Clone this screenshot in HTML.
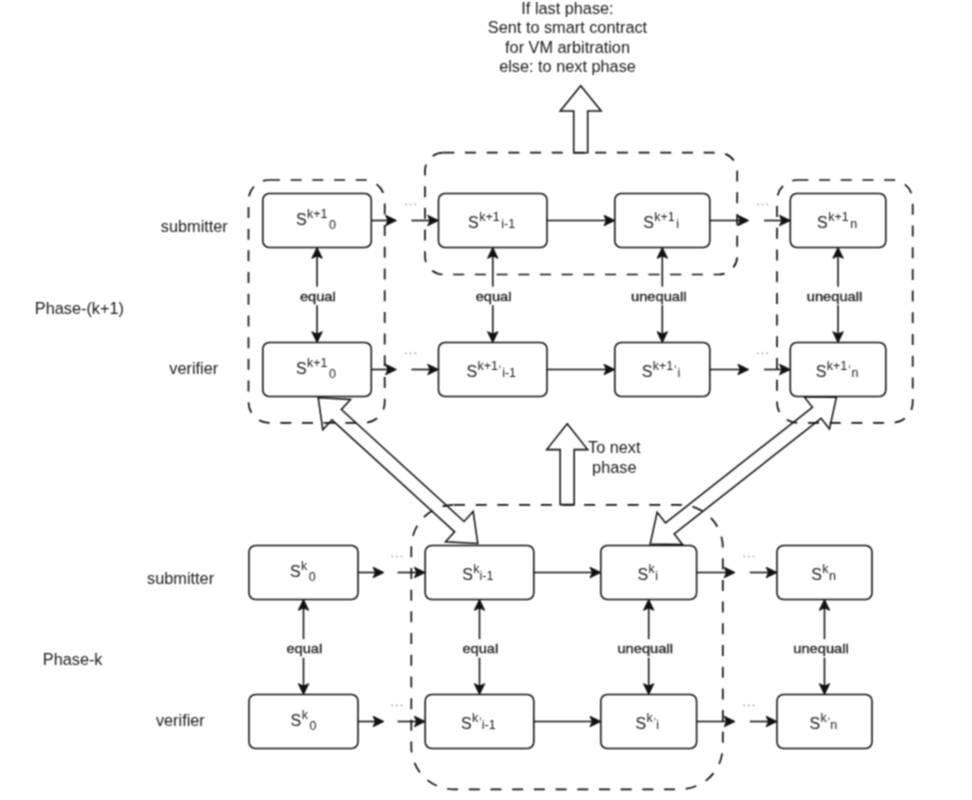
<!DOCTYPE html>
<html><head><meta charset="utf-8"><style>
html,body{margin:0;padding:0;background:#fff;width:972px;height:800px;overflow:hidden}
svg{display:block;font-family:"Liberation Sans",sans-serif}
</style></head><body>
<svg width="972" height="800" viewBox="0 0 972 800">
<defs><filter id="bl" color-interpolation-filters="sRGB" filterUnits="userSpaceOnUse" x="0" y="0" width="972" height="800"><feConvolveMatrix order="3" kernelMatrix="1 2 1 2 4 2 1 2 1" divisor="16" edgeMode="duplicate"/></filter></defs>
<rect width="972" height="800" fill="#fff"/>
<g filter="url(#bl)">
<rect width="972" height="800" fill="#fff"/>
<polygon points="318.20,397.80 322.84,429.80 331.94,419.83 454.62,531.81 445.52,541.78 477.80,543.50 473.16,511.50 464.06,521.47 341.38,409.49 350.48,399.52" fill="#fff" stroke="#111111" stroke-width="1.55" stroke-linejoin="miter"/>
<polygon points="836.40,397.30 804.08,396.66 812.43,407.27 665.51,522.93 657.16,512.33 650.20,543.90 682.52,544.54 674.17,533.93 821.09,418.27 829.44,428.87" fill="#fff" stroke="#111111" stroke-width="1.55" stroke-linejoin="miter"/>
<polygon points="573.70,152.70 573.70,111.00 560.20,111.00 580.70,85.80 601.20,111.00 587.70,111.00 587.70,152.70" fill="#fff" stroke="#111111" stroke-width="1.55" stroke-linejoin="miter"/>
<polygon points="560.20,504.60 560.20,449.60 546.70,449.60 567.20,423.80 587.70,449.60 574.20,449.60 574.20,504.60" fill="#fff" stroke="#111111" stroke-width="1.55" stroke-linejoin="miter"/>
<path d="M268.93,180.00 L364.27,180.00 A20.43,20.43 0 0 1 384.70,200.43 L384.70,402.37 A20.43,20.43 0 0 1 364.27,422.80 L268.93,422.80 A20.43,20.43 0 0 1 248.50,402.37 L248.50,200.43 A20.43,20.43 0 0 1 268.93,180.00 Z" fill="none" stroke="#111111" stroke-width="1.7" stroke-dasharray="11 10.7"/>
<path d="M443.27,152.70 L718.93,152.70 A18.27,18.27 0 0 1 737.20,170.97 L737.20,256.23 A18.27,18.27 0 0 1 718.93,274.50 L443.27,274.50 A18.27,18.27 0 0 1 425.00,256.23 L425.00,170.97 A18.27,18.27 0 0 1 443.27,152.70 Z" fill="none" stroke="#111111" stroke-width="1.7" stroke-dasharray="11 10.7"/>
<path d="M797.36,180.00 L892.35,180.00 A20.35,20.35 0 0 1 912.70,200.35 L912.70,402.44 A20.35,20.35 0 0 1 892.35,422.80 L797.36,422.80 A20.35,20.35 0 0 1 777.00,402.44 L777.00,200.35 A20.35,20.35 0 0 1 797.36,180.00 Z" fill="none" stroke="#111111" stroke-width="1.7" stroke-dasharray="11 10.7"/>
<path d="M453.98,504.80 L680.12,504.80 A42.67,42.67 0 0 1 722.80,547.48 L722.80,746.62 A42.67,42.67 0 0 1 680.12,789.30 L453.98,789.30 A42.67,42.67 0 0 1 411.30,746.62 L411.30,547.48 A42.67,42.67 0 0 1 453.98,504.80 Z" fill="none" stroke="#111111" stroke-width="1.7" stroke-dasharray="11 10.7"/>
<line x1="371.3" y1="220.5" x2="390.4" y2="220.5" stroke="#111111" stroke-width="1.55"/>
<polygon points="396.40,220.50 385.60,225.70 388.00,220.50 385.60,215.30" fill="#111111" stroke="#111111" stroke-width="1" stroke-linejoin="miter"/>
<line x1="411.4" y1="220.5" x2="432.5" y2="220.5" stroke="#111111" stroke-width="1.55"/>
<polygon points="438.50,220.50 427.70,225.70 430.10,220.50 427.70,215.30" fill="#111111" stroke="#111111" stroke-width="1" stroke-linejoin="miter"/>
<line x1="547" y1="220.5" x2="608.8" y2="220.5" stroke="#111111" stroke-width="1.55"/>
<polygon points="614.80,220.50 604.00,225.70 606.40,220.50 604.00,215.30" fill="#111111" stroke="#111111" stroke-width="1" stroke-linejoin="miter"/>
<line x1="709.8" y1="220.5" x2="742.7" y2="220.5" stroke="#111111" stroke-width="1.55"/>
<polygon points="748.70,220.50 737.90,225.70 740.30,220.50 737.90,215.30" fill="#111111" stroke="#111111" stroke-width="1" stroke-linejoin="miter"/>
<line x1="764" y1="220.5" x2="784.3" y2="220.5" stroke="#111111" stroke-width="1.55"/>
<polygon points="790.30,220.50 779.50,225.70 781.90,220.50 779.50,215.30" fill="#111111" stroke="#111111" stroke-width="1" stroke-linejoin="miter"/>
<line x1="371.3" y1="369.5" x2="390.4" y2="369.5" stroke="#111111" stroke-width="1.55"/>
<polygon points="396.40,369.50 385.60,374.70 388.00,369.50 385.60,364.30" fill="#111111" stroke="#111111" stroke-width="1" stroke-linejoin="miter"/>
<line x1="411.4" y1="369.5" x2="432.5" y2="369.5" stroke="#111111" stroke-width="1.55"/>
<polygon points="438.50,369.50 427.70,374.70 430.10,369.50 427.70,364.30" fill="#111111" stroke="#111111" stroke-width="1" stroke-linejoin="miter"/>
<line x1="547" y1="369.5" x2="608.8" y2="369.5" stroke="#111111" stroke-width="1.55"/>
<polygon points="614.80,369.50 604.00,374.70 606.40,369.50 604.00,364.30" fill="#111111" stroke="#111111" stroke-width="1" stroke-linejoin="miter"/>
<line x1="709.8" y1="369.5" x2="742.7" y2="369.5" stroke="#111111" stroke-width="1.55"/>
<polygon points="748.70,369.50 737.90,374.70 740.30,369.50 737.90,364.30" fill="#111111" stroke="#111111" stroke-width="1" stroke-linejoin="miter"/>
<line x1="764" y1="369.5" x2="784.3" y2="369.5" stroke="#111111" stroke-width="1.55"/>
<polygon points="790.30,369.50 779.50,374.70 781.90,369.50 779.50,364.30" fill="#111111" stroke="#111111" stroke-width="1" stroke-linejoin="miter"/>
<line x1="358" y1="572.5" x2="377.9" y2="572.5" stroke="#111111" stroke-width="1.55"/>
<polygon points="383.90,572.50 373.10,577.70 375.50,572.50 373.10,567.30" fill="#111111" stroke="#111111" stroke-width="1" stroke-linejoin="miter"/>
<line x1="397.5" y1="572.5" x2="419.2" y2="572.5" stroke="#111111" stroke-width="1.55"/>
<polygon points="425.20,572.50 414.40,577.70 416.80,572.50 414.40,567.30" fill="#111111" stroke="#111111" stroke-width="1" stroke-linejoin="miter"/>
<line x1="533.8" y1="572.5" x2="594.8" y2="572.5" stroke="#111111" stroke-width="1.55"/>
<polygon points="600.80,572.50 590.00,577.70 592.40,572.50 590.00,567.30" fill="#111111" stroke="#111111" stroke-width="1" stroke-linejoin="miter"/>
<line x1="696.6" y1="572.5" x2="729" y2="572.5" stroke="#111111" stroke-width="1.55"/>
<polygon points="735.00,572.50 724.20,577.70 726.60,572.50 724.20,567.30" fill="#111111" stroke="#111111" stroke-width="1" stroke-linejoin="miter"/>
<line x1="749.8" y1="572.5" x2="771" y2="572.5" stroke="#111111" stroke-width="1.55"/>
<polygon points="777.00,572.50 766.20,577.70 768.60,572.50 766.20,567.30" fill="#111111" stroke="#111111" stroke-width="1" stroke-linejoin="miter"/>
<line x1="358" y1="721.5" x2="377.9" y2="721.5" stroke="#111111" stroke-width="1.55"/>
<polygon points="383.90,721.50 373.10,726.70 375.50,721.50 373.10,716.30" fill="#111111" stroke="#111111" stroke-width="1" stroke-linejoin="miter"/>
<line x1="397.5" y1="721.5" x2="419.2" y2="721.5" stroke="#111111" stroke-width="1.55"/>
<polygon points="425.20,721.50 414.40,726.70 416.80,721.50 414.40,716.30" fill="#111111" stroke="#111111" stroke-width="1" stroke-linejoin="miter"/>
<line x1="533.8" y1="721.5" x2="594.8" y2="721.5" stroke="#111111" stroke-width="1.55"/>
<polygon points="600.80,721.50 590.00,726.70 592.40,721.50 590.00,716.30" fill="#111111" stroke="#111111" stroke-width="1" stroke-linejoin="miter"/>
<line x1="696.6" y1="721.5" x2="729" y2="721.5" stroke="#111111" stroke-width="1.55"/>
<polygon points="735.00,721.50 724.20,726.70 726.60,721.50 724.20,716.30" fill="#111111" stroke="#111111" stroke-width="1" stroke-linejoin="miter"/>
<line x1="749.8" y1="721.5" x2="771" y2="721.5" stroke="#111111" stroke-width="1.55"/>
<polygon points="777.00,721.50 766.20,726.70 768.60,721.50 766.20,716.30" fill="#111111" stroke="#111111" stroke-width="1" stroke-linejoin="miter"/>
<line x1="317.05" y1="253.5" x2="317.05" y2="336.5" stroke="#111111" stroke-width="1.55"/>
<polygon points="317.05,247.50 322.25,258.30 317.05,255.90 311.85,258.30" fill="#111111" stroke="#111111" stroke-width="1" stroke-linejoin="miter"/>
<polygon points="317.05,342.50 311.85,331.70 317.05,334.10 322.25,331.70" fill="#111111" stroke="#111111" stroke-width="1" stroke-linejoin="miter"/>
<line x1="492.75" y1="253.5" x2="492.75" y2="336.5" stroke="#111111" stroke-width="1.55"/>
<polygon points="492.75,247.50 497.95,258.30 492.75,255.90 487.55,258.30" fill="#111111" stroke="#111111" stroke-width="1" stroke-linejoin="miter"/>
<polygon points="492.75,342.50 487.55,331.70 492.75,334.10 497.95,331.70" fill="#111111" stroke="#111111" stroke-width="1" stroke-linejoin="miter"/>
<line x1="662.3" y1="253.5" x2="662.3" y2="336.5" stroke="#111111" stroke-width="1.55"/>
<polygon points="662.30,247.50 667.50,258.30 662.30,255.90 657.10,258.30" fill="#111111" stroke="#111111" stroke-width="1" stroke-linejoin="miter"/>
<polygon points="662.30,342.50 657.10,331.70 662.30,334.10 667.50,331.70" fill="#111111" stroke="#111111" stroke-width="1" stroke-linejoin="miter"/>
<line x1="838.05" y1="253.5" x2="838.05" y2="336.5" stroke="#111111" stroke-width="1.55"/>
<polygon points="838.05,247.50 843.25,258.30 838.05,255.90 832.85,258.30" fill="#111111" stroke="#111111" stroke-width="1" stroke-linejoin="miter"/>
<polygon points="838.05,342.50 832.85,331.70 838.05,334.10 843.25,331.70" fill="#111111" stroke="#111111" stroke-width="1" stroke-linejoin="miter"/>
<line x1="303.5" y1="605.5" x2="303.5" y2="688.5" stroke="#111111" stroke-width="1.55"/>
<polygon points="303.50,599.50 308.70,610.30 303.50,607.90 298.30,610.30" fill="#111111" stroke="#111111" stroke-width="1" stroke-linejoin="miter"/>
<polygon points="303.50,694.50 298.30,683.70 303.50,686.10 308.70,683.70" fill="#111111" stroke="#111111" stroke-width="1" stroke-linejoin="miter"/>
<line x1="479.5" y1="605.5" x2="479.5" y2="688.5" stroke="#111111" stroke-width="1.55"/>
<polygon points="479.50,599.50 484.70,610.30 479.50,607.90 474.30,610.30" fill="#111111" stroke="#111111" stroke-width="1" stroke-linejoin="miter"/>
<polygon points="479.50,694.50 474.30,683.70 479.50,686.10 484.70,683.70" fill="#111111" stroke="#111111" stroke-width="1" stroke-linejoin="miter"/>
<line x1="648.6999999999999" y1="605.5" x2="648.6999999999999" y2="688.5" stroke="#111111" stroke-width="1.55"/>
<polygon points="648.70,599.50 653.90,610.30 648.70,607.90 643.50,610.30" fill="#111111" stroke="#111111" stroke-width="1" stroke-linejoin="miter"/>
<polygon points="648.70,694.50 643.50,683.70 648.70,686.10 653.90,683.70" fill="#111111" stroke="#111111" stroke-width="1" stroke-linejoin="miter"/>
<line x1="824.5" y1="605.5" x2="824.5" y2="688.5" stroke="#111111" stroke-width="1.55"/>
<polygon points="824.50,599.50 829.70,610.30 824.50,607.90 819.30,610.30" fill="#111111" stroke="#111111" stroke-width="1" stroke-linejoin="miter"/>
<polygon points="824.50,694.50 819.30,683.70 824.50,686.10 829.70,683.70" fill="#111111" stroke="#111111" stroke-width="1" stroke-linejoin="miter"/>
<path d="M269.30,193.50 L364.80,193.50 A6.50,6.50 0 0 1 371.30,200.00 L371.30,241.00 A6.50,6.50 0 0 1 364.80,247.50 L269.30,247.50 A6.50,6.50 0 0 1 262.80,241.00 L262.80,200.00 A6.50,6.50 0 0 1 269.30,193.50 Z" fill="#fff" stroke="#111111" stroke-width="1.55"/>
<path d="M269.30,342.50 L364.80,342.50 A6.50,6.50 0 0 1 371.30,349.00 L371.30,390.00 A6.50,6.50 0 0 1 364.80,396.50 L269.30,396.50 A6.50,6.50 0 0 1 262.80,390.00 L262.80,349.00 A6.50,6.50 0 0 1 269.30,342.50 Z" fill="#fff" stroke="#111111" stroke-width="1.55"/>
<path d="M445.00,193.50 L540.50,193.50 A6.50,6.50 0 0 1 547.00,200.00 L547.00,241.00 A6.50,6.50 0 0 1 540.50,247.50 L445.00,247.50 A6.50,6.50 0 0 1 438.50,241.00 L438.50,200.00 A6.50,6.50 0 0 1 445.00,193.50 Z" fill="#fff" stroke="#111111" stroke-width="1.55"/>
<path d="M445.00,342.50 L540.50,342.50 A6.50,6.50 0 0 1 547.00,349.00 L547.00,390.00 A6.50,6.50 0 0 1 540.50,396.50 L445.00,396.50 A6.50,6.50 0 0 1 438.50,390.00 L438.50,349.00 A6.50,6.50 0 0 1 445.00,342.50 Z" fill="#fff" stroke="#111111" stroke-width="1.55"/>
<path d="M621.30,193.50 L703.30,193.50 A6.50,6.50 0 0 1 709.80,200.00 L709.80,241.00 A6.50,6.50 0 0 1 703.30,247.50 L621.30,247.50 A6.50,6.50 0 0 1 614.80,241.00 L614.80,200.00 A6.50,6.50 0 0 1 621.30,193.50 Z" fill="#fff" stroke="#111111" stroke-width="1.55"/>
<path d="M621.30,342.50 L703.30,342.50 A6.50,6.50 0 0 1 709.80,349.00 L709.80,390.00 A6.50,6.50 0 0 1 703.30,396.50 L621.30,396.50 A6.50,6.50 0 0 1 614.80,390.00 L614.80,349.00 A6.50,6.50 0 0 1 621.30,342.50 Z" fill="#fff" stroke="#111111" stroke-width="1.55"/>
<path d="M796.80,193.50 L879.30,193.50 A6.50,6.50 0 0 1 885.80,200.00 L885.80,241.00 A6.50,6.50 0 0 1 879.30,247.50 L796.80,247.50 A6.50,6.50 0 0 1 790.30,241.00 L790.30,200.00 A6.50,6.50 0 0 1 796.80,193.50 Z" fill="#fff" stroke="#111111" stroke-width="1.55"/>
<path d="M796.80,342.50 L879.30,342.50 A6.50,6.50 0 0 1 885.80,349.00 L885.80,390.00 A6.50,6.50 0 0 1 879.30,396.50 L796.80,396.50 A6.50,6.50 0 0 1 790.30,390.00 L790.30,349.00 A6.50,6.50 0 0 1 796.80,342.50 Z" fill="#fff" stroke="#111111" stroke-width="1.55"/>
<path d="M255.50,545.50 L351.50,545.50 A6.50,6.50 0 0 1 358.00,552.00 L358.00,593.00 A6.50,6.50 0 0 1 351.50,599.50 L255.50,599.50 A6.50,6.50 0 0 1 249.00,593.00 L249.00,552.00 A6.50,6.50 0 0 1 255.50,545.50 Z" fill="#fff" stroke="#111111" stroke-width="1.55"/>
<path d="M255.50,694.50 L351.50,694.50 A6.50,6.50 0 0 1 358.00,701.00 L358.00,742.00 A6.50,6.50 0 0 1 351.50,748.50 L255.50,748.50 A6.50,6.50 0 0 1 249.00,742.00 L249.00,701.00 A6.50,6.50 0 0 1 255.50,694.50 Z" fill="#fff" stroke="#111111" stroke-width="1.55"/>
<path d="M431.70,545.50 L527.30,545.50 A6.50,6.50 0 0 1 533.80,552.00 L533.80,593.00 A6.50,6.50 0 0 1 527.30,599.50 L431.70,599.50 A6.50,6.50 0 0 1 425.20,593.00 L425.20,552.00 A6.50,6.50 0 0 1 431.70,545.50 Z" fill="#fff" stroke="#111111" stroke-width="1.55"/>
<path d="M431.70,694.50 L527.30,694.50 A6.50,6.50 0 0 1 533.80,701.00 L533.80,742.00 A6.50,6.50 0 0 1 527.30,748.50 L431.70,748.50 A6.50,6.50 0 0 1 425.20,742.00 L425.20,701.00 A6.50,6.50 0 0 1 431.70,694.50 Z" fill="#fff" stroke="#111111" stroke-width="1.55"/>
<path d="M607.30,545.50 L690.10,545.50 A6.50,6.50 0 0 1 696.60,552.00 L696.60,593.00 A6.50,6.50 0 0 1 690.10,599.50 L607.30,599.50 A6.50,6.50 0 0 1 600.80,593.00 L600.80,552.00 A6.50,6.50 0 0 1 607.30,545.50 Z" fill="#fff" stroke="#111111" stroke-width="1.55"/>
<path d="M607.30,694.50 L690.10,694.50 A6.50,6.50 0 0 1 696.60,701.00 L696.60,742.00 A6.50,6.50 0 0 1 690.10,748.50 L607.30,748.50 A6.50,6.50 0 0 1 600.80,742.00 L600.80,701.00 A6.50,6.50 0 0 1 607.30,694.50 Z" fill="#fff" stroke="#111111" stroke-width="1.55"/>
<path d="M783.50,545.50 L865.50,545.50 A6.50,6.50 0 0 1 872.00,552.00 L872.00,593.00 A6.50,6.50 0 0 1 865.50,599.50 L783.50,599.50 A6.50,6.50 0 0 1 777.00,593.00 L777.00,552.00 A6.50,6.50 0 0 1 783.50,545.50 Z" fill="#fff" stroke="#111111" stroke-width="1.55"/>
<path d="M783.50,694.50 L865.50,694.50 A6.50,6.50 0 0 1 872.00,701.00 L872.00,742.00 A6.50,6.50 0 0 1 865.50,748.50 L783.50,748.50 A6.50,6.50 0 0 1 777.00,742.00 L777.00,701.00 A6.50,6.50 0 0 1 783.50,694.50 Z" fill="#fff" stroke="#111111" stroke-width="1.55"/>
<rect x="298.95000000000005" y="286.7" width="37.8" height="18.5" fill="#fff"/>
<text x="317.85" y="300.8" font-size="13" text-anchor="middle" fill="#1a1a1a" stroke="#1a1a1a" stroke-width="0.3" textLength="35.8" lengthAdjust="spacingAndGlyphs">equal</text>
<rect x="474.65000000000003" y="286.7" width="37.8" height="18.5" fill="#fff"/>
<text x="493.55" y="300.8" font-size="13" text-anchor="middle" fill="#1a1a1a" stroke="#1a1a1a" stroke-width="0.3" textLength="35.8" lengthAdjust="spacingAndGlyphs">equal</text>
<rect x="630.05" y="286.7" width="57.5" height="18.5" fill="#fff"/>
<text x="658.8" y="300.8" font-size="13" text-anchor="middle" fill="#1a1a1a" stroke="#1a1a1a" stroke-width="0.3" textLength="55.5" lengthAdjust="spacingAndGlyphs">unequall</text>
<rect x="805.8" y="286.7" width="57.5" height="18.5" fill="#fff"/>
<text x="834.55" y="300.8" font-size="13" text-anchor="middle" fill="#1a1a1a" stroke="#1a1a1a" stroke-width="0.3" textLength="55.5" lengthAdjust="spacingAndGlyphs">unequall</text>
<rect x="285.40000000000003" y="639.2" width="37.8" height="18.5" fill="#fff"/>
<text x="304.3" y="653.3" font-size="13" text-anchor="middle" fill="#1a1a1a" stroke="#1a1a1a" stroke-width="0.3" textLength="35.8" lengthAdjust="spacingAndGlyphs">equal</text>
<rect x="461.40000000000003" y="639.2" width="37.8" height="18.5" fill="#fff"/>
<text x="480.3" y="653.3" font-size="13" text-anchor="middle" fill="#1a1a1a" stroke="#1a1a1a" stroke-width="0.3" textLength="35.8" lengthAdjust="spacingAndGlyphs">equal</text>
<rect x="616.4499999999999" y="639.2" width="57.5" height="18.5" fill="#fff"/>
<text x="645.1999999999999" y="653.3" font-size="13" text-anchor="middle" fill="#1a1a1a" stroke="#1a1a1a" stroke-width="0.3" textLength="55.5" lengthAdjust="spacingAndGlyphs">unequall</text>
<rect x="792.25" y="639.2" width="57.5" height="18.5" fill="#fff"/>
<text x="821.0" y="653.3" font-size="13" text-anchor="middle" fill="#1a1a1a" stroke="#1a1a1a" stroke-width="0.3" textLength="55.5" lengthAdjust="spacingAndGlyphs">unequall</text>
<circle cx="406.00" cy="204.3" r="0.9" fill="#a2a2a2"/>
<circle cx="410.60" cy="204.3" r="0.9" fill="#a2a2a2"/>
<circle cx="415.20" cy="204.3" r="0.9" fill="#a2a2a2"/>
<circle cx="758.00" cy="204.3" r="0.9" fill="#a2a2a2"/>
<circle cx="762.60" cy="204.3" r="0.9" fill="#a2a2a2"/>
<circle cx="767.20" cy="204.3" r="0.9" fill="#a2a2a2"/>
<circle cx="406.00" cy="353.3" r="0.9" fill="#a2a2a2"/>
<circle cx="410.60" cy="353.3" r="0.9" fill="#a2a2a2"/>
<circle cx="415.20" cy="353.3" r="0.9" fill="#a2a2a2"/>
<circle cx="758.00" cy="353.3" r="0.9" fill="#a2a2a2"/>
<circle cx="762.60" cy="353.3" r="0.9" fill="#a2a2a2"/>
<circle cx="767.20" cy="353.3" r="0.9" fill="#a2a2a2"/>
<circle cx="392.30" cy="556.3" r="0.9" fill="#a2a2a2"/>
<circle cx="396.90" cy="556.3" r="0.9" fill="#a2a2a2"/>
<circle cx="401.50" cy="556.3" r="0.9" fill="#a2a2a2"/>
<circle cx="744.30" cy="556.3" r="0.9" fill="#a2a2a2"/>
<circle cx="748.90" cy="556.3" r="0.9" fill="#a2a2a2"/>
<circle cx="753.50" cy="556.3" r="0.9" fill="#a2a2a2"/>
<circle cx="392.30" cy="705.3" r="0.9" fill="#a2a2a2"/>
<circle cx="396.90" cy="705.3" r="0.9" fill="#a2a2a2"/>
<circle cx="401.50" cy="705.3" r="0.9" fill="#a2a2a2"/>
<circle cx="744.30" cy="705.3" r="0.9" fill="#a2a2a2"/>
<circle cx="748.90" cy="705.3" r="0.9" fill="#a2a2a2"/>
<circle cx="753.50" cy="705.3" r="0.9" fill="#a2a2a2"/>
<text x="296.0" y="225" font-size="16" text-anchor="start" fill="#1a1a1a">S<tspan font-size="12.5" dx="0.4" dy="-6.8">k+1</tspan><tspan font-size="12.5" dx="1.5" dy="11.1">0</tspan></text>
<text x="468.1" y="228" font-size="16" text-anchor="start" fill="#1a1a1a">S<tspan font-size="12.5" dx="0.4" dy="-6.8">k+1</tspan><tspan font-size="12.5" dx="1.5" dy="7.1">i-1</tspan></text>
<text x="643.2" y="227.7" font-size="16" text-anchor="start" fill="#1a1a1a">S<tspan font-size="12.5" dx="0.4" dy="-6.8">k+1</tspan><tspan font-size="12.5" dx="1.5" dy="7.1">i</tspan></text>
<text x="817.1" y="227.7" font-size="16" text-anchor="start" fill="#1a1a1a">S<tspan font-size="12.5" dx="0.4" dy="-6.8">k+1</tspan><tspan font-size="12.5" dx="1.5" dy="7.1">n</tspan></text>
<text x="296.0" y="373.9" font-size="16" text-anchor="start" fill="#1a1a1a">S<tspan font-size="12.5" dx="0.4" dy="-6.8">k+1</tspan><tspan font-size="12.5" dx="1.5" dy="11.3">0</tspan></text>
<text x="466.4" y="376.7" font-size="16" text-anchor="start" fill="#1a1a1a">S<tspan font-size="12.5" dx="0.4" dy="-6.8">k+1</tspan><tspan font-size="10" dx="0.6" dy="-3">,</tspan><tspan font-size="12.5" dx="0.8" dy="10.1">i-1</tspan></text>
<text x="641.7" y="376.6" font-size="16" text-anchor="start" fill="#1a1a1a">S<tspan font-size="12.5" dx="0.4" dy="-6.8">k+1</tspan><tspan font-size="10" dx="0.6" dy="-3">,</tspan><tspan font-size="12.5" dx="0.8" dy="10.1">i</tspan></text>
<text x="815.7" y="376.6" font-size="16" text-anchor="start" fill="#1a1a1a">S<tspan font-size="12.5" dx="0.4" dy="-6.8">k+1</tspan><tspan font-size="10" dx="0.6" dy="-3">,</tspan><tspan font-size="12.5" dx="0.8" dy="10.1">n</tspan></text>
<text x="290.0" y="576.9" font-size="16" text-anchor="start" fill="#1a1a1a">S<tspan font-size="12.5" dx="0.4" dy="-6.8">k</tspan><tspan font-size="12.5" dx="1.5" dy="11.1">0</tspan></text>
<text x="462.2" y="579.7" font-size="16" text-anchor="start" fill="#1a1a1a">S<tspan font-size="12.5" dx="0.4" dy="-6.8">k</tspan><tspan font-size="12.5" dx="0" dy="7.1">i-1</tspan></text>
<text x="637.5" y="579.7" font-size="16" text-anchor="start" fill="#1a1a1a">S<tspan font-size="12.5" dx="0.4" dy="-6.8">k</tspan><tspan font-size="12.5" dx="0.5" dy="7.1">i</tspan></text>
<text x="811.2" y="579.7" font-size="16" text-anchor="start" fill="#1a1a1a">S<tspan font-size="12.5" dx="0.4" dy="-6.8">k</tspan><tspan font-size="12.5" dx="0.5" dy="7.1">n</tspan></text>
<text x="290.6" y="725.9" font-size="16" text-anchor="start" fill="#1a1a1a">S<tspan font-size="12.5" dx="0.4" dy="-6.8">k</tspan><tspan font-size="12.5" dx="1.5" dy="11.1">0</tspan></text>
<text x="461.0" y="728.7" font-size="16" text-anchor="start" fill="#1a1a1a">S<tspan font-size="12.5" dx="0.4" dy="-6.8">k</tspan><tspan font-size="10" dx="0.6" dy="-3">,</tspan><tspan font-size="12.5" dx="0" dy="10.1">i-1</tspan></text>
<text x="635.5" y="728.7" font-size="16" text-anchor="start" fill="#1a1a1a">S<tspan font-size="12.5" dx="0.4" dy="-6.8">k</tspan><tspan font-size="10" dx="0.6" dy="-3">,</tspan><tspan font-size="12.5" dx="0" dy="10.1">i</tspan></text>
<text x="809.5" y="728.7" font-size="16" text-anchor="start" fill="#1a1a1a">S<tspan font-size="12.5" dx="0.4" dy="-6.8">k</tspan><tspan font-size="10" dx="0.6" dy="-3">,</tspan><tspan font-size="12.5" dx="0" dy="10.1">n</tspan></text>
<text x="194.3" y="232" font-size="16.3" text-anchor="middle" font-weight="normal" fill="#1a1a1a">submitter</text>
<text x="79.4" y="313.6" font-size="16.3" text-anchor="middle" font-weight="normal" fill="#1a1a1a">Phase-(k+1)</text>
<text x="193.7" y="374" font-size="16.3" text-anchor="middle" font-weight="normal" fill="#1a1a1a">verifier</text>
<text x="180.6" y="583.7" font-size="16.3" text-anchor="middle" font-weight="normal" fill="#1a1a1a">submitter</text>
<text x="72.65" y="665.2" font-size="16.3" text-anchor="middle" font-weight="normal" fill="#1a1a1a">Phase-k</text>
<text x="180.35" y="725.8" font-size="16.3" text-anchor="middle" font-weight="normal" fill="#1a1a1a">verifier</text>
<text x="567.5" y="14.0" font-size="16.3" text-anchor="middle" font-weight="normal" fill="#1a1a1a">If last phase:</text>
<text x="567.5" y="33.4" font-size="16.3" text-anchor="middle" font-weight="normal" fill="#1a1a1a">Sent to smart contract</text>
<text x="567.5" y="52.8" font-size="16.3" text-anchor="middle" font-weight="normal" fill="#1a1a1a">for VM arbitration</text>
<text x="567.5" y="72.19999999999999" font-size="16.3" text-anchor="middle" font-weight="normal" fill="#1a1a1a">else: to next phase</text>
<text x="614.3" y="452.5" font-size="16.3" text-anchor="middle" font-weight="normal" fill="#1a1a1a">To next</text>
<text x="614.3" y="473" font-size="16.3" text-anchor="middle" font-weight="normal" fill="#1a1a1a">phase</text>
</g>
</svg>
</body></html>
